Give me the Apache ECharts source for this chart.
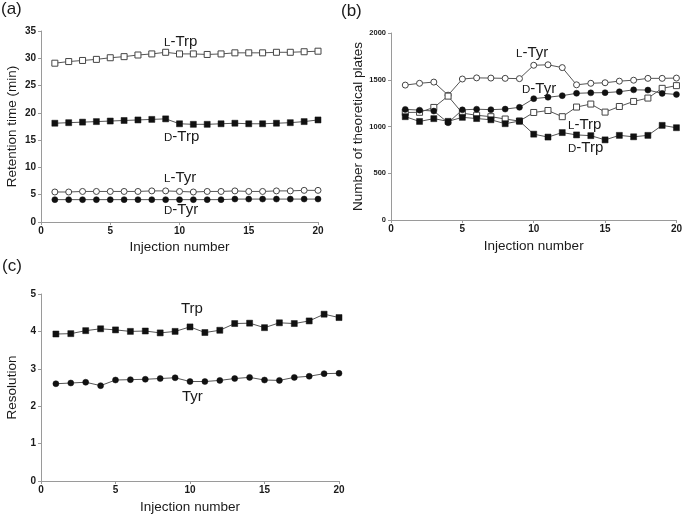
<!DOCTYPE html>
<html>
<head>
<meta charset="utf-8">
<script src="https://cdn.jsdelivr.net/npm/echarts@6/dist/echarts.min.js"></script>
<style>html,body{margin:0;padding:0;background:#fff}#c{width:685px;height:516px}</style>
</head>
<body>
<div id="c"></div>
<script>
const injections = [1,2,3,4,5,6,7,8,9,10,11,12,13,14,15,16,17,18,19,20];

// (a) Retention time (min)
const rtLTrp = [29.1,29.4,29.6,29.8,30.1,30.3,30.6,30.8,31.1,30.8,30.8,30.7,30.8,31.0,31.0,31.0,31.1,31.1,31.2,31.3];
const rtDTrp = [18.1,18.2,18.3,18.4,18.5,18.6,18.7,18.8,18.9,18.0,17.9,17.9,18.0,18.1,18.0,18.0,18.1,18.2,18.4,18.7];
const rtLTyr = [5.5,5.5,5.6,5.6,5.6,5.6,5.6,5.7,5.7,5.6,5.5,5.6,5.6,5.7,5.6,5.6,5.7,5.7,5.8,5.8];
const rtDTyr = [4.1,4.1,4.1,4.1,4.1,4.1,4.1,4.1,4.1,4.1,4.1,4.1,4.1,4.2,4.2,4.2,4.2,4.2,4.2,4.2];

// (b) Number of theoretical plates
const npLTyr = [1443,1462,1475,1335,1508,1520,1518,1515,1512,1655,1660,1630,1446,1462,1468,1485,1495,1515,1515,1518];
const npDTyr = [1183,1175,1165,1040,1178,1185,1180,1186,1205,1298,1313,1330,1355,1360,1362,1372,1392,1390,1354,1343];
const npLTrp = [1150,1152,1204,1325,1143,1120,1105,1080,1058,1150,1171,1105,1208,1240,1154,1214,1268,1304,1408,1437];
const npDTrp = [1105,1054,1084,1055,1098,1085,1072,1030,1058,918,887,935,910,902,857,905,890,905,1012,987];

// (c) Resolution
const rsTrp = [3.93,3.94,4.02,4.07,4.04,4.00,4.01,3.96,4.00,4.12,3.97,4.03,4.21,4.22,4.10,4.23,4.21,4.28,4.46,4.37];
const rsTyr = [2.60,2.62,2.64,2.55,2.70,2.71,2.72,2.74,2.76,2.66,2.66,2.69,2.74,2.77,2.70,2.69,2.77,2.80,2.87,2.88];

const FONT = '"Liberation Sans", Arial, sans-serif';
const TXT = '#1a1a1a';
const AX = '#9a9a9a';

function pairs(v){ return injections.map((x,i)=>[x, v[i]]); }
function ser(idx, vals, symbol, open){
  return {
    type:'line', xAxisIndex:idx, yAxisIndex:idx, data:pairs(vals),
    symbol: symbol, symbolSize: 6,
    showAllSymbol:true, animation:false, z: open?3:4,
    lineStyle:{color:'#555', width:1},
    itemStyle: open ? {color:'#fff', borderColor:'#444', borderWidth:1} : {color:'#111', borderColor:'#111', borderWidth:0.5}
  };
}
function xAx(idx, tickSize, gap){
  return {
    gridIndex:idx, type:'value', min:0, max:20, interval:5,
    name:'Injection number', nameLocation:'middle', nameGap:gap,
    nameTextStyle:{fontFamily:FONT, fontSize:13.5, color:TXT},
    axisLine:{lineStyle:{color:AX, width:1}},
    axisTick:{show:true, length:3, lineStyle:{color:AX}},
    axisLabel:{fontFamily:FONT, fontSize:tickSize, color:TXT, margin:4, fontWeight:'bold'},
    splitLine:{show:false}
  };
}
function yAx(idx, max, interval, name, gap, tickSize){
  return {
    gridIndex:idx, type:'value', min:0, max:max, interval:interval,
    name:name, nameLocation:'middle', nameGap:gap, nameRotate:90,
    nameTextStyle:{fontFamily:FONT, fontSize:13.5, color:TXT},
    axisLine:{show:true, lineStyle:{color:AX, width:1}},
    axisTick:{show:true, length:3, lineStyle:{color:AX}},
    axisLabel:{fontFamily:FONT, fontSize:tickSize, color:TXT, margin:5, fontWeight:'bold',
      formatter:function(v){ return String(v); }},
    splitLine:{show:false}
  };
}
function lbl(x, y, prefix, rest){
  const t = prefix ? '{sc|'+prefix+'}{n|-'+rest+'}' : '{n|'+rest+'}';
  return {type:'text', left:x, top:y, style:{text:t, fill:TXT, fontFamily:FONT,
    rich:{sc:{fontSize:11.5, fontFamily:FONT, fill:TXT, verticalAlign:'bottom'}, n:{fontSize:15, fontFamily:FONT, fill:TXT}}}, z:10};
}
function panel(x, y, t){
  return {type:'text', left:x, top:y, style:{text:t, fill:TXT, fontFamily:FONT, fontSize:17}, z:10};
}

const chart = echarts.init(document.getElementById('c'), null, {renderer:'canvas'});
chart.setOption({
  backgroundColor:'#fff',
  animation:false,
  grid:[
    {left:41, top:31, width:277, height:191},
    {left:391, top:33, width:287, height:187},
    {left:41, top:294, width:298, height:187}
  ],
  xAxis:[xAx(0, 10, 18), xAx(1, 10, 19), xAx(2, 10, 19)],
  yAxis:[
    yAx(0, 35, 5, 'Retention time (min)', 22, 10),
    yAx(1, 2000, 500, 'Number of theoretical plates', 23, 7.5),
    yAx(2, 5, 1, 'Resolution', 22, 10)
  ],
  series:[
    ser(0, rtLTrp, 'rect', true),
    ser(0, rtDTrp, 'rect', false),
    ser(0, rtLTyr, 'circle', true),
    ser(0, rtDTyr, 'circle', false),
    ser(1, npLTyr, 'circle', true),
    ser(1, npDTyr, 'circle', false),
    ser(1, npLTrp, 'rect', true),
    ser(1, npDTrp, 'rect', false),
    ser(2, rsTrp, 'rect', false),
    ser(2, rsTyr, 'circle', false)
  ],
  graphic:[
    panel(1, 1, '(a)'), panel(341, 3, '(b)'), panel(2, 258, '(c)'),
    lbl(164, 34, 'L', 'Trp'),
    lbl(164, 129, 'D', 'Trp'),
    lbl(164, 170, 'L', 'Tyr'),
    lbl(164, 202, 'D', 'Tyr'),
    lbl(516, 45, 'L', 'Tyr'),
    lbl(522, 81, 'D', 'Tyr'),
    lbl(568, 117, 'L', 'Trp'),
    lbl(568, 140, 'D', 'Trp'),
    lbl(181, 301, null, 'Trp'),
    lbl(182, 389, null, 'Tyr')
  ]
});
</script>
</body>
</html>
